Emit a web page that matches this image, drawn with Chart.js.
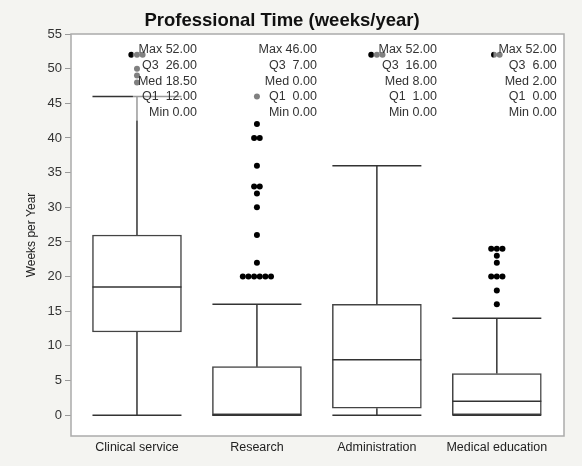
<!DOCTYPE html>
<html><head><meta charset="utf-8">
<script src="https://cdn.jsdelivr.net/npm/chart.js@4.4.1/dist/chart.umd.min.js"></script>
<style>html,body{margin:0;padding:0;background:#f4f4f1;}canvas{display:block;}</style>
</head><body>
<canvas id="c" width="582" height="466"></canvas>
<script>
const categories = ['Clinical service', 'Research', 'Administration', 'Medical education'];
const q1Values = [12, 0, 1, 0];
const medianValues = [18.5, 0, 8, 2];
const q3Values = [26, 7, 16, 6];
const minValues = [0, 0, 0, 0];
const maxValues = [52, 46, 52, 52];
const whiskerLow = [0, 0, 0, 0];
const whiskerHigh = [46, 16, 36, 14];
const clinicalOutliers = [48, 49, 50, 52, 52, 52];
const researchOutliers = [20, 20, 20, 20, 20, 20, 22, 26, 30, 32, 33, 33, 36, 40, 40, 42, 46];
const adminOutliers = [52, 52, 52];
const medEdOutliers = [16, 18, 20, 20, 20, 22, 23, 24, 24, 24, 52, 52];
const yTickValues = [0, 5, 10, 15, 20, 25, 30, 35, 40, 45, 50, 55];

const FONT = "'Liberation Sans', Arial, Helvetica, sans-serif";
const outlierGroups = [clinicalOutliers, researchOutliers, adminOutliers, medEdOutliers];
const STACK_STEP = 0.047;

const boxData = categories.map((c, i) => ({x: i, y: [q1Values[i], q3Values[i]]}));
const outlierPoints = [];
outlierGroups.forEach((vals, i) => {
  const counts = {};
  vals.forEach(v => counts[v] = (counts[v] || 0) + 1);
  Object.keys(counts).forEach(k => {
    const n = counts[k];
    for (let j = 0; j < n; j++) {
      outlierPoints.push({x: i + (j - (n - 1) / 2) * STACK_STEP, y: Number(k)});
    }
  });
});

const boxPlugin = {
  id: 'boxExtras',
  beforeDraw(chart) {
    const {ctx, chartArea: a} = chart;
    ctx.save();
    ctx.fillStyle = '#f4f4f1';
    ctx.fillRect(0, 0, chart.width, chart.height);
    ctx.fillStyle = '#ffffff';
    ctx.fillRect(a.left, a.top, a.right - a.left, a.bottom - a.top);
    ctx.restore();
  },
  afterDatasetsDraw(chart) {
    const {ctx, chartArea: a, scales: {x, y}} = chart;
    const meta = chart.getDatasetMeta(0);
    ctx.save();
    const line = (x1, y1, x2, y2) => { ctx.beginPath(); ctx.moveTo(x1, y1); ctx.lineTo(x2, y2); ctx.stroke(); };
    ctx.strokeStyle = '#333';
    ctx.lineWidth = 1.5;
    categories.forEach((c, i) => {
      const cx = x.getPixelForValue(i);
      const half = meta.data[i].width / 2;
      line(cx, y.getPixelForValue(whiskerLow[i]), cx, y.getPixelForValue(q1Values[i]));
      line(cx, y.getPixelForValue(q3Values[i]), cx, y.getPixelForValue(whiskerHigh[i]));
      line(cx - half, y.getPixelForValue(whiskerLow[i]), cx + half, y.getPixelForValue(whiskerLow[i]));
      line(cx - half, y.getPixelForValue(whiskerHigh[i]), cx + half, y.getPixelForValue(whiskerHigh[i]));
      line(cx - half, y.getPixelForValue(medianValues[i]), cx + half, y.getPixelForValue(medianValues[i]));
    });
    // plot frame
    ctx.strokeStyle = '#ababab';
    ctx.lineWidth = 1.5;
    ctx.strokeRect(a.left, a.top, a.right - a.left, a.bottom - a.top);
    // summary text blocks
    ctx.font = '12.5px ' + FONT;
    ctx.textBaseline = 'middle';
    ctx.textAlign = 'right';
    categories.forEach((c, i) => {
      const lines = [
        'Max ' + maxValues[i].toFixed(2),
        'Q3  ' + q3Values[i].toFixed(2),
        'Med ' + medianValues[i].toFixed(2),
        'Q1  ' + q1Values[i].toFixed(2),
        'Min ' + minValues[i].toFixed(2)
      ];
      const right = x.getPixelForValue(i + 0.5);
      const w = Math.max(...lines.map(s => ctx.measureText(s).width));
      const y0 = a.top + 16;
      const step = 15.67;
      ctx.fillStyle = 'rgba(255,255,255,0.5)';
      ctx.fillRect(right - w - 5, y0 - 8, w + 6, step * 4 + 16);
      ctx.fillStyle = '#333';
      lines.forEach((s, k) => ctx.fillText(s, right, y0 + k * step));
    });
    ctx.restore();
  }
};

Chart.defaults.font.family = FONT;
Chart.defaults.color = '#222';

new Chart(document.getElementById('c'), {
  type: 'bar',
  data: {
    datasets: [
      {type: 'bar', data: boxData, backgroundColor: '#ffffff', borderColor: '#444', borderWidth: 1.5,
       borderSkipped: false, barThickness: 89, order: 2},
      {type: 'scatter', data: outlierPoints, backgroundColor: '#000', borderWidth: 0,
       pointRadius: 3, pointHoverRadius: 3, order: 1}
    ]
  },
  options: {
    responsive: false,
    animation: false,
    events: [],
    layout: {padding: {left: 0, right: 18, top: 0, bottom: 0}},
    plugins: {
      legend: {display: false},
      tooltip: {enabled: false},
      title: {display: true, text: 'Professional Time (weeks/year)',
              font: {size: 18.5, weight: 'bold', family: FONT}, color: '#111',
              padding: {top: 10, bottom: 1.8}}
    },
    scales: {
      x: {
        type: 'linear', min: -0.55, max: 3.56, offset: false,
        afterBuildTicks: ax => { ax.ticks = categories.map((c, i) => ({value: i})); },
        ticks: {callback: v => categories[v], font: {size: 12.5}, color: '#222', padding: 4,
                autoSkip: false, maxRotation: 0},
        grid: {display: false, drawTicks: false, offset: false},
        border: {display: false},
        afterFit: ax => { ax.height = 30; }
      },
      y: {
        min: -3, max: 55,
        afterBuildTicks: ax => { ax.ticks = yTickValues.map(v => ({value: v})); },
        ticks: {font: {size: 13}, color: '#333', padding: 3},
        grid: {drawOnChartArea: false, drawTicks: true, tickLength: 6, color: '#999'},
        border: {display: false},
        title: {display: true, text: 'Weeks per Year', font: {size: 12}, color: '#222',
                padding: {top: 24, bottom: 0}},
        afterFit: ax => { ax.width = 71; }
      }
    }
  },
  plugins: [boxPlugin]
});
</script>
</body></html>
